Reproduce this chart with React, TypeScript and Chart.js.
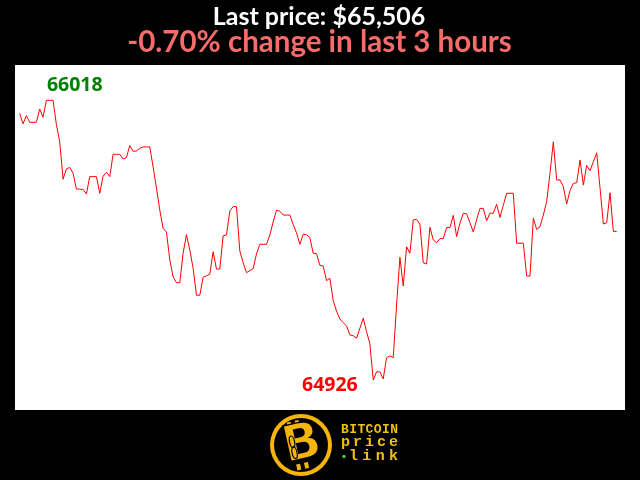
import React, { useEffect, useRef } from "react";
import { Chart, registerables } from "chart.js";

Chart.register(...registerables);

// Bitcoin price, one value per minute over the last 3 hours (USD)
const prices: number[] = [
  65967, 65926, 65958, 65932, 65932, 65932, 65984, 65952, 66018, 66018,
  66018, 65924, 65856, 65710, 65750, 65756, 65733, 65672, 65671, 65670,
  65652, 65720, 65720, 65720, 65655, 65722, 65737, 65720, 65807, 65807,
  65807, 65789, 65794, 65841, 65819, 65820, 65831, 65836, 65836, 65836,
  65758, 65676, 65590, 65518, 65504, 65395, 65329, 65306, 65306, 65421,
  65493, 65434, 65362, 65257, 65257, 65327, 65333, 65339, 65427, 65359,
  65359, 65489, 65492, 65586, 65603, 65603, 65430, 65384, 65345, 65353,
  65361, 65418, 65456, 65456, 65456, 65492, 65543, 65589, 65585, 65570,
  65570, 65570, 65533, 65501, 65456, 65495, 65493, 65482, 65421, 65419,
  65374, 65371, 65314, 65323, 65236, 65195, 65164, 65150, 65137, 65102,
  65099, 65089, 65128, 65167, 65115, 65067, 64926, 64958, 64958, 64930,
  65013, 65020, 65013, 65219, 65405, 65293, 65446, 65421, 65551, 65553,
  65534, 65384, 65379, 65522, 65473, 65462, 65478, 65478, 65521, 65521,
  65569, 65486, 65538, 65577, 65575, 65540, 65504, 65551, 65596, 65596,
  65548, 65577, 65577, 65612, 65561, 65608, 65655, 65655, 65655, 65460,
  65460, 65460, 65332, 65332, 65557, 65514, 65524, 65570, 65622, 65733,
  65856, 65707, 65707, 65681, 65613, 65665, 65694, 65696, 65785, 65687,
  65764, 65743, 65778, 65813, 65676, 65535, 65540, 65657, 65506, 65506,
];

const minuteLabels: string[] = prices.map((_, i) => `-${179 - i}m`);

const titleText = "Last price: $65,506";
const subtitleText = "-0.70% change in last 3 hours";
const logoWords = ["BITCOIN", "price", "link"];

const maxPrice = Math.max(...prices);
const minPrice = Math.min(...prices);

export default function App() {
  const ref = useRef<HTMLCanvasElement>(null);

  useEffect(() => {
    const canvas = ref.current!;
    const iMax = prices.indexOf(maxPrice);
    const iMin = prices.indexOf(minPrice);

    const spread = (ctx: CanvasRenderingContext2D, word: string, x0: number, x1: number, y: number) => {
      const w = ctx.measureText("M").width;
      const n = word.length;
      const gap = n > 1 ? (x1 - x0 - w) / (n - 1) : 0;
      for (let i = 0; i < n; i++) ctx.fillText(word[i], x0 + i * gap, y);
    };

    const decor = {
      id: "decor",
      beforeDraw(chart: any) {
        const { ctx } = chart;
        ctx.save();
        ctx.fillStyle = "#000";
        ctx.fillRect(0, 0, chart.width, chart.height);
        ctx.fillStyle = "#fff";
        ctx.fillRect(15, 65, 610, 345);
        ctx.restore();
      },
      afterDraw(chart: any) {
        const { ctx } = chart;
        const meta = chart.getDatasetMeta(0);
        const pMax = meta.data[iMax];
        const pMin = meta.data[iMin];
        ctx.save();
        // titles
        ctx.textAlign = "center";
        ctx.textBaseline = "alphabetic";
        ctx.fillStyle = "#ffffff";
        ctx.font = "bold 25px Lato";
        ctx.fillText(titleText, 319, 24.5);
        ctx.fillStyle = "#f86b6b";
        ctx.font = "bold 29.5px Lato";
        ctx.fillText(subtitleText, 319.5, 52);

        // extreme labels
        ctx.font = "bold 19.5px 'Open Sans'";
        ctx.textAlign = "left";
        ctx.fillStyle = "#008000";
        ctx.fillText(String(maxPrice), pMax.x + 0.5, pMax.y - 9);
        ctx.textAlign = "right";
        ctx.fillStyle = "#ff0000";
        ctx.fillText(String(minPrice), pMin.x - 15.5, pMin.y + 11);

        // logo
        const cx = 301, cy = 445;
        ctx.fillStyle = "#f5b50a";
        ctx.beginPath(); ctx.arc(cx, cy, 31, 0, Math.PI * 2); ctx.fill();
        ctx.fillStyle = "#000";
        ctx.beginPath(); ctx.arc(cx, cy, 27, 0, Math.PI * 2); ctx.fill();
        ctx.save();
        ctx.translate(cx, cy);
        ctx.rotate(-0.22);
        ctx.fillStyle = "#f5b50a";
        ctx.fillRect(-9, -25, 4, 6);
        ctx.fillRect(-1, -25, 4, 6);
        ctx.fillRect(-9, 18, 4, 6);
        ctx.fillRect(-1, 18, 4, 6);
        ctx.font = "bold 50px 'DejaVu Sans'";
        ctx.textAlign = "center";
        ctx.textBaseline = "middle";
        ctx.lineWidth = 1.5;
        ctx.strokeStyle = "#000";
        ctx.fillText("B", 1, 1);
        ctx.strokeText("B", 1, 1);
        ctx.strokeStyle = "#000";
        ctx.lineWidth = 1.2;
        ctx.beginPath();
        ctx.ellipse(-8, -5, 2.5, 6, 0, 0, Math.PI * 2);
        ctx.stroke();
        ctx.beginPath();
        ctx.ellipse(-8, 6, 2.5, 6, 0, 0, Math.PI * 2);
        ctx.stroke();
        ctx.restore();

        ctx.fillStyle = "#f0c010";
        ctx.textAlign = "left";
        ctx.textBaseline = "alphabetic";
        ctx.font = "bold 13px 'Liberation Mono'";
        spread(ctx, logoWords[0], 341, 398, 433);
        ctx.font = "bold 15px 'Liberation Mono'";
        spread(ctx, logoWords[1], 341, 398, 446);
        spread(ctx, logoWords[2], 349, 398, 460);
        ctx.fillStyle = "#33cc33";
        ctx.beginPath(); ctx.arc(344, 456.5, 1.8, 0, Math.PI * 2); ctx.fill();
        ctx.restore();
      },
    };

    const chart = new Chart(canvas, {
      type: "line",
      data: {
        labels: minuteLabels,
        datasets: [
          {
            data: prices,
            borderColor: "#ff0000",
            borderWidth: 1,
            pointRadius: 0,
            tension: 0,
            fill: false,
            clip: false as any,
          },
        ],
      },
      options: {
        animation: false,
        responsive: false,
        maintainAspectRatio: false,
        layout: { padding: { left: 19.7, right: 23.3, top: 100.3, bottom: 100 } },
        scales: {
          x: { display: false, offset: false },
          y: { display: false, min: minPrice, max: maxPrice },
        },
        plugins: {
          legend: { display: false },
          tooltip: { enabled: false },
          title: { display: false },
        },
      },
      plugins: [decor],
    });
    return () => chart.destroy();
  }, []);

  return (
    <div style={{ position: "fixed", left: 0, top: 0, width: 640, height: 480, background: "#000" }}>
      <canvas ref={ref} width={640} height={480} style={{ display: "block", width: 640, height: 480 }} />
    </div>
  );
}
